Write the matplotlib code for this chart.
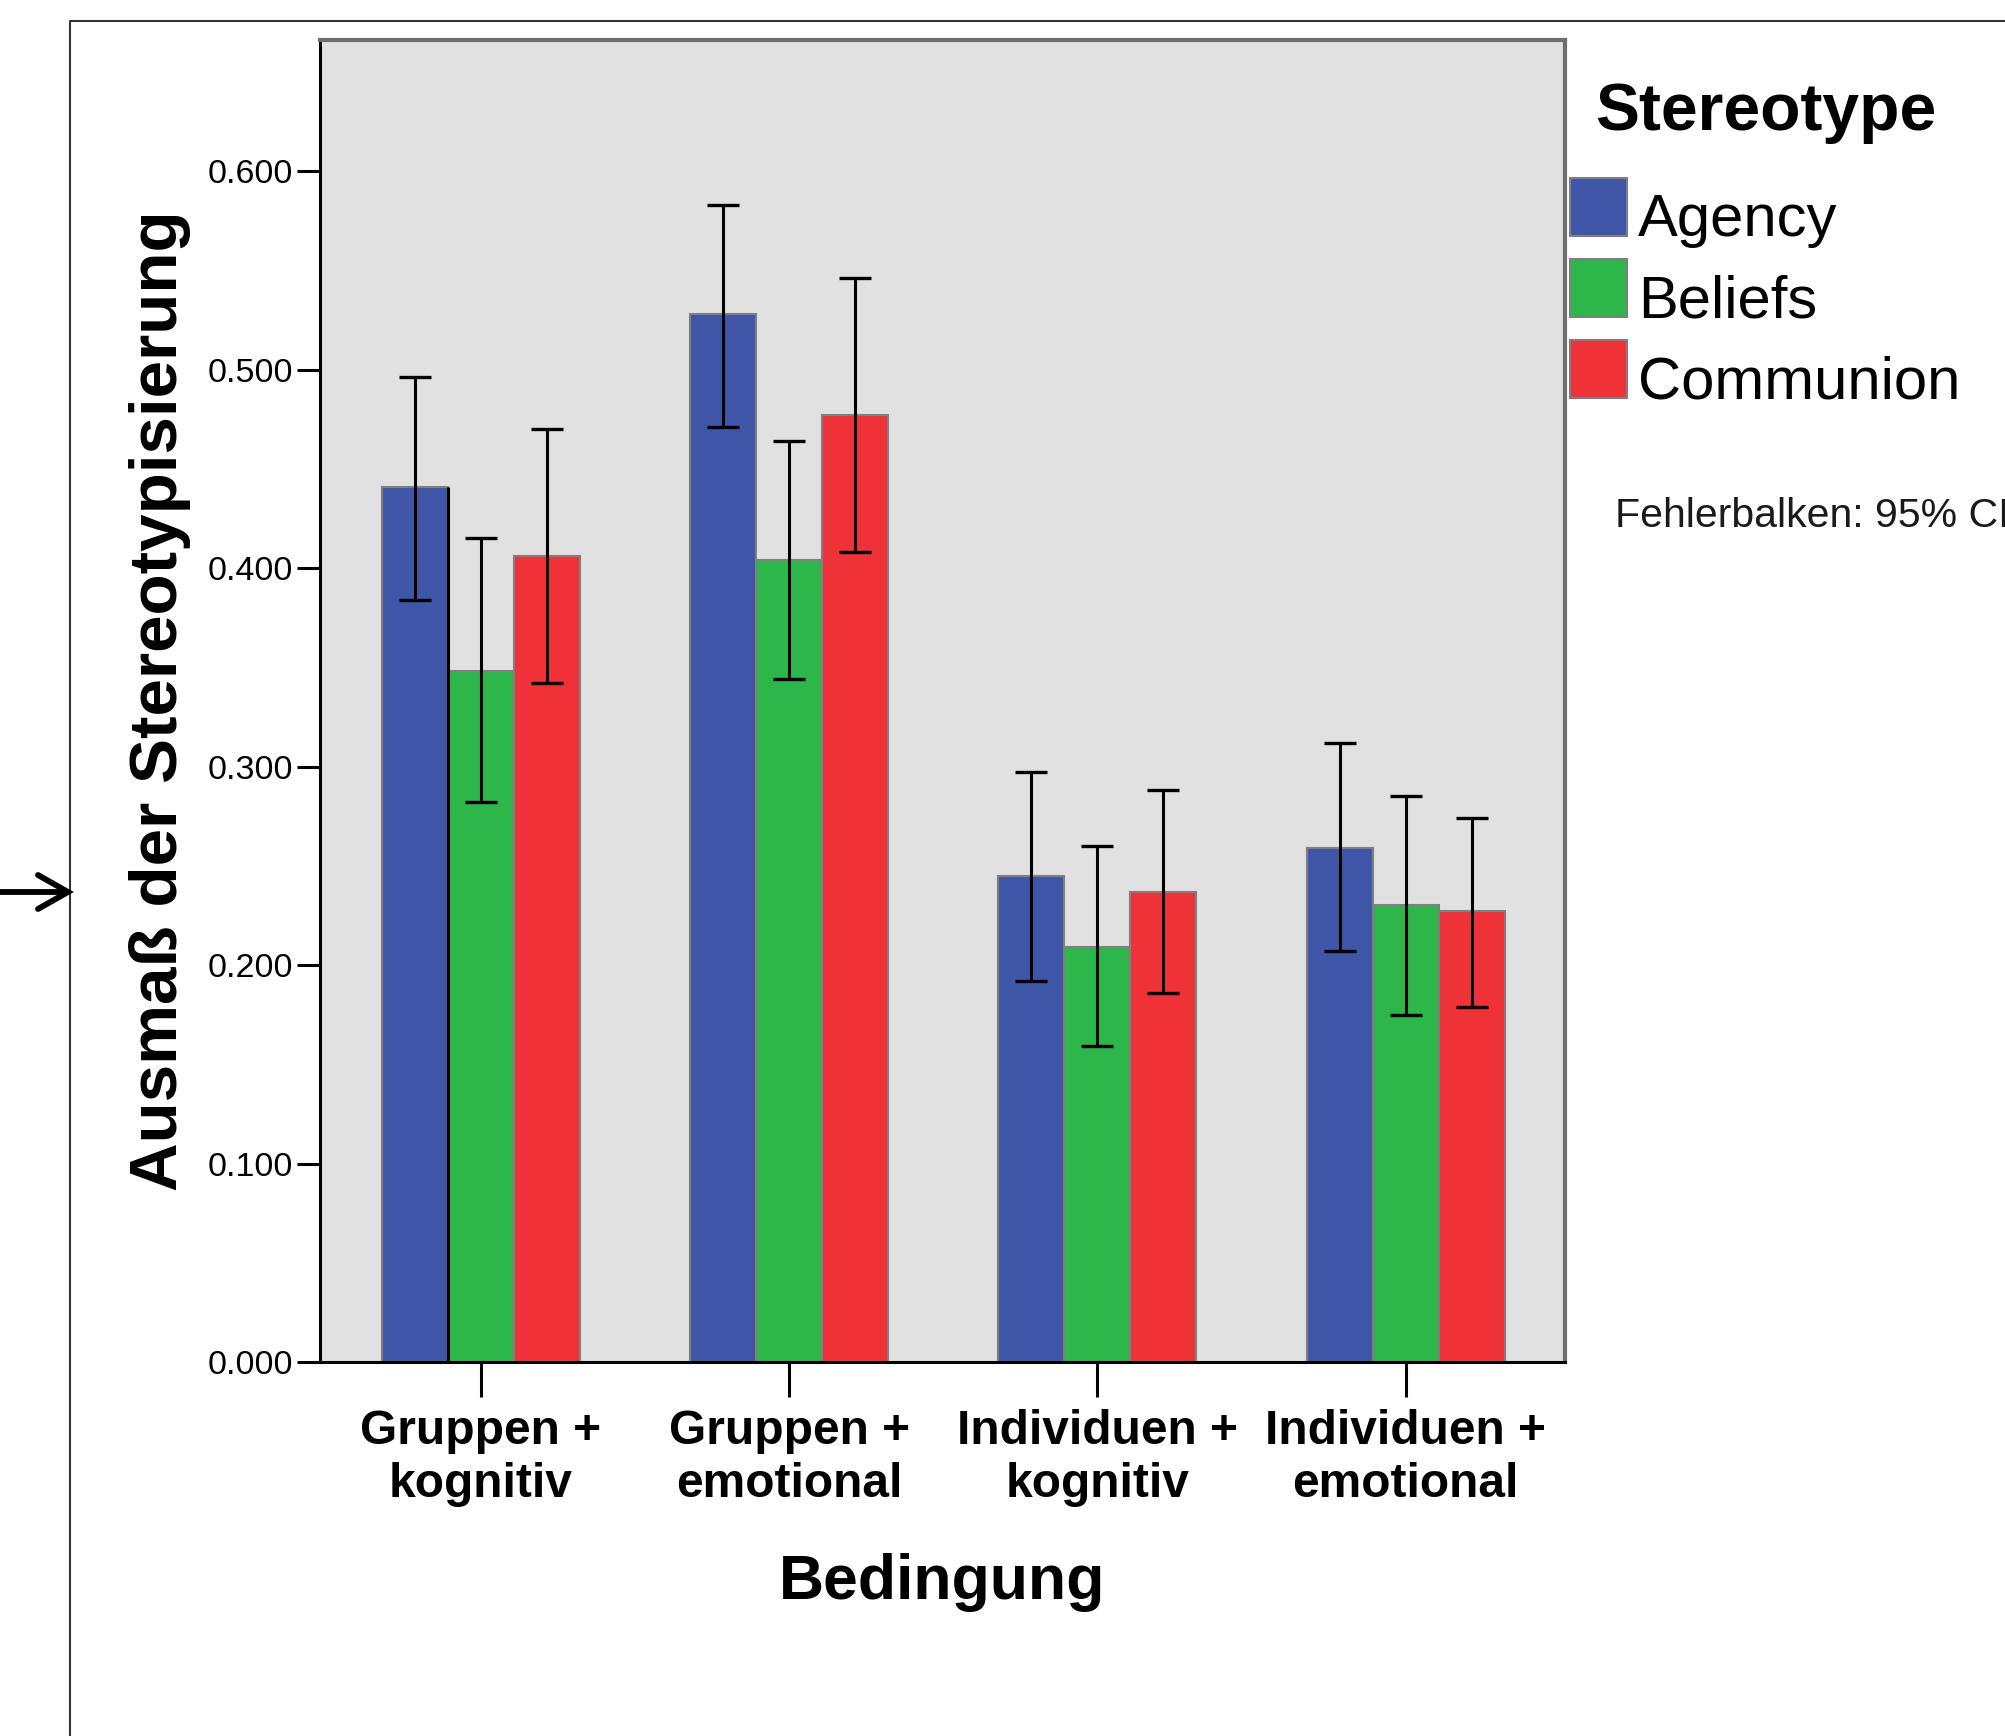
import numpy as np
import matplotlib
matplotlib.use("Agg")
import matplotlib.pyplot as plt
from matplotlib.lines import Line2D

plt.rcParams['font.family'] = ['Liberation Sans', 'DejaVu Sans']

# Mittelwerte und 95%-CI je Bedingung
conditions = ["Gruppen +\nkognitiv", "Gruppen +\nemotional",
              "Individuen +\nkognitiv", "Individuen +\nemotional"]
series = ["Agency", "Beliefs", "Communion"]
colors = ["#3F56A8", "#2DB74A", "#EE3238"]

agency = [0.441, 0.528, 0.245, 0.259]
agency_lo = [0.384, 0.471, 0.192, 0.207]
agency_hi = [0.496, 0.583, 0.297, 0.312]

beliefs = [0.348, 0.404, 0.209, 0.230]
beliefs_lo = [0.282, 0.344, 0.159, 0.175]
beliefs_hi = [0.415, 0.464, 0.260, 0.285]

communion = [0.406, 0.477, 0.237, 0.227]
communion_lo = [0.342, 0.408, 0.186, 0.179]
communion_hi = [0.470, 0.546, 0.288, 0.274]

yticks = [0.0, 0.1, 0.2, 0.3, 0.4, 0.5, 0.6]


def main():
    W, H = 2006, 1736
    fig = plt.figure(figsize=(W / 100, H / 100), dpi=100)
    ax = fig.add_axes([320 / W, 1 - 1362 / H, (1565 - 320) / W, (1362 - 40) / H])
    ax.set_facecolor("#E1E1E1")

    x = np.arange(len(conditions))
    w = 0.214
    data = [(agency, agency_lo, agency_hi),
            (beliefs, beliefs_lo, beliefs_hi),
            (communion, communion_lo, communion_hi)]
    handles = []
    for i, (vals, lo, hi) in enumerate(data):
        vals = np.array(vals)
        pos = x + (i - 1) * w
        b = ax.bar(pos, vals, w, color=colors[i], edgecolor="#7F7F7F",
                   linewidth=1.5, label=series[i], zorder=2)
        handles.append(b)
        yerr = [vals - np.array(lo), np.array(hi) - vals]
        ax.errorbar(pos, vals, yerr=yerr, fmt="none", ecolor="black",
                    elinewidth=2.2, capsize=11.5, capthick=2.4, zorder=3)

    # schwarze Kante am ersten Agency-Balken (wie im Original)
    ax.vlines(x[0] - w / 2, 0, agency[0], color="black", linewidth=2.2, zorder=2.5)

    ax.set_xlim(-0.522, 3.517)
    ax.set_ylim(0, 0.666)
    ax.set_yticks(yticks)
    ax.set_yticklabels(["%.3f" % v for v in yticks], fontsize=24.5)
    ax.set_xticks(x)
    ax.set_xticklabels(conditions, fontsize=34.5, fontweight="bold", linespacing=1.22)
    ax.tick_params(axis="y", length=16.5, width=2.2, pad=3)
    ax.tick_params(axis="x", length=25, width=2.2, pad=9)

    for s in ["left", "bottom"]:
        ax.spines[s].set_color("black")
        ax.spines[s].set_linewidth(2.2)
    for s in ["top", "right"]:
        ax.spines[s].set_color("#6E6E6E")
        ax.spines[s].set_linewidth(3)

    ax.set_ylabel("Ausmaß der Stereotypisierung", fontsize=48.5, fontweight="bold")
    ax.yaxis.set_label_coords(-0.104, 0.5)
    ax.set_xlabel("Bedingung", fontsize=45, fontweight="bold")
    ax.xaxis.set_label_coords(0.5, -0.1445)

    # Legende
    fig.text(1595 / W, 1 - 130 / H, "Stereotype", fontsize=47.5, fontweight="bold",
             va="baseline", ha="left")
    leg = fig.legend(handles=handles, labels=series, loc="upper left",
                     bbox_to_anchor=(1570 / W, 1 - 178 / H), bbox_transform=fig.transFigure,
                     frameon=False, fontsize=43, borderpad=0, borderaxespad=0,
                     handlelength=0.955, handleheight=1.12, handletextpad=0.18,
                     labelspacing=0.33)
    for t in leg.get_texts():
        t.set_y(-9)
    fig.text(1615 / W, 1 - 527 / H, "Fehlerbalken: 95% CI", fontsize=29.5,
             va="baseline", ha="left", color="#1A1A1A")

    # Rahmen und Pfeil
    fig.add_artist(Line2D([70 / W, 70 / W, 1.0], [0.0, 1 - 21 / H, 1 - 21 / H],
                          transform=fig.transFigure, color="#333333", linewidth=1.5))
    ay = 1 - 892 / H
    fig.add_artist(Line2D([0.0, 68 / W], [ay, ay], transform=fig.transFigure,
                          color="black", linewidth=4.2, solid_capstyle="butt"))
    fig.add_artist(Line2D([38 / W, 68 / W, 38 / W], [ay + 17 / H, ay, ay - 17 / H],
                          transform=fig.transFigure, color="black", linewidth=4.2,
                          solid_capstyle="round", solid_joinstyle="miter"))

    fig.savefig("out.png", dpi=100)


if __name__ == "__main__":
    main()
